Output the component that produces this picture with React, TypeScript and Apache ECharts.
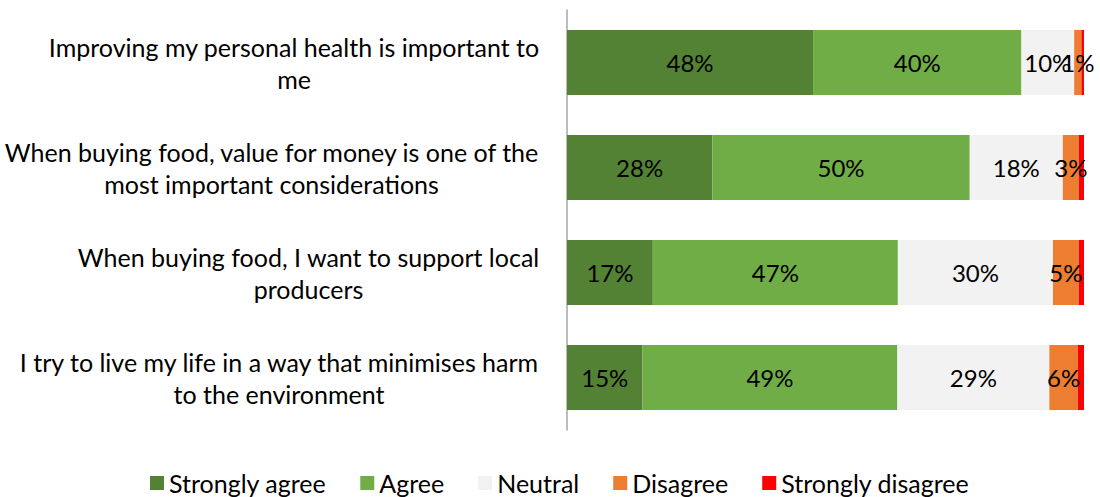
import React, { useEffect, useRef } from "react";
import * as echarts from "echarts";

const categories = [
  "Improving my personal health is important to\nme",
  "When buying food, value for money is one of the\nmost important considerations",
  "When buying food, I want to support local\nproducers",
  "I try to live my life in a way that minimises harm\nto the environment",
];
const stronglyAgree = [47.6, 28.1, 16.6, 14.6];
const agree = [40.3, 49.8, 47.4, 49.3];
const neutral = [10.2, 18.0, 30.0, 29.4];
const disagree = [1.4, 3.1, 5.0, 5.5];
const stronglyDisagree = [0.5, 1.0, 1.0, 1.2];
const legendNames = ["Strongly agree", "Agree", "Neutral", "Disagree", "Strongly disagree"];

const FONT = "Lato";
const AXIS_SIZE = 25;

export default function App() {
  const ref = useRef<HTMLDivElement>(null);
  useEffect(() => {
    const chart = echarts.init(ref.current!, null, { renderer: "svg" });
    const ctx = document.createElement("canvas").getContext("2d")!;
    ctx.font = `${AXIS_SIZE}px ${FONT}`;
    const rich: Record<string, any> = {};
    categories.forEach((c, i) => {
      const w = Math.max(...c.split("\n").map((l) => ctx.measureText(l).width));
      rich["r" + i] = {
        width: Math.ceil(w) + 1,
        align: "center",
        fontFamily: FONT,
        fontSize: AXIS_SIZE,
        lineHeight: 32,
        color: "#000",
      };
    });
    const mk = (name: string, data: number[], color: string, showLabel: boolean) => ({
      name,
      type: "bar",
      stack: "total",
      data,
      barWidth: "62%",
      itemStyle: { color },
      label: {
        show: showLabel,
        position: "inside",
        color: "#000",
        fontFamily: FONT,
        fontSize: 24,
        formatter: (p: any) => Math.round(p.value) + "%",
      },
    });
    chart.setOption({
      animation: false,
      textStyle: { fontFamily: FONT },
      grid: { left: 565, right: 16, top: 10, bottom: 67 },
      xAxis: {
        type: "value",
        min: 0,
        max: 100,
        show: false,
      },
      yAxis: {
        type: "category",
        inverse: true,
        data: categories,
        axisLine: { show: true, lineStyle: { color: "#A6A6A6", width: 1.5 } },
        axisTick: { show: false },
        axisLabel: {
          color: "#000",
          fontFamily: FONT,
          fontSize: AXIS_SIZE,
          lineHeight: 32,
          align: "right",
          margin: 27,
          rich,
          formatter: (v: string, idx: number) =>
            v
              .split("\n")
              .map((l) => `{r${idx}|${l}}`)
              .join("\n"),
        },
      },
      legend: {
        top: 463,
        left: 145,
        padding: 5,
        itemWidth: 14,
        itemHeight: 14,
        itemGap: 34,
        icon: "rect",
        textStyle: { fontFamily: FONT, fontSize: AXIS_SIZE, color: "#000", lineHeight: 30 },
        data: legendNames,
      },
      series: [
        mk(legendNames[0], stronglyAgree, "#548235", true),
        mk(legendNames[1], agree, "#70AD47", true),
        mk(legendNames[2], neutral, "#F2F2F2", true),
        mk(legendNames[3], disagree, "#ED7D31", true),
        mk(legendNames[4], stronglyDisagree, "#FF0000", false),
      ],
    });
    return () => chart.dispose();
  }, []);
  return (
    <div
      ref={ref}
      style={{ position: "fixed", left: 0, top: 0, width: 1100, height: 497, background: "#fff" }}
    />
  );
}
